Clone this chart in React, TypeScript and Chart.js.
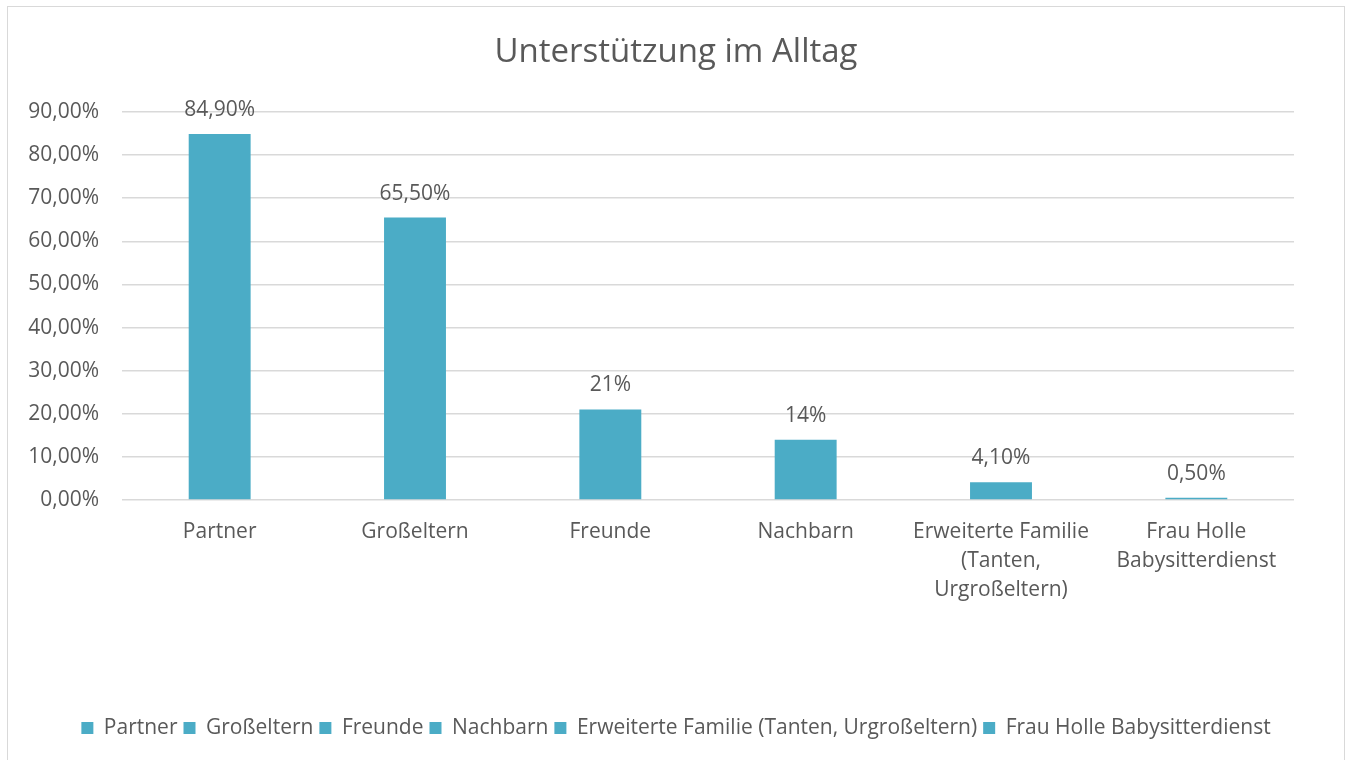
import React, { useEffect, useRef } from "react";
import { Chart, registerables } from "chart.js";

Chart.register(...registerables);

const categories: (string | string[])[] = [
  "Partner",
  "Großeltern",
  "Freunde",
  "Nachbarn",
  ["Erweiterte Familie", "(Tanten,", "Urgroßeltern)"],
  ["Frau Holle", "Babysitterdienst"],
];
const legendLabels = [
  "Partner",
  "Großeltern",
  "Freunde",
  "Nachbarn",
  "Erweiterte Familie (Tanten, Urgroßeltern)",
  "Frau Holle Babysitterdienst",
];
const values = [84.9, 65.5, 21, 14, 4.1, 0.5];
const valueLabels = ["84,90%", "65,50%", "21%", "14%", "4,10%", "0,50%"];
const yTickLabels = ["0,00%", "10,00%", "20,00%", "30,00%", "40,00%", "50,00%", "60,00%", "70,00%", "80,00%", "90,00%"];

const BAR = "#4BACC6";
const TEXT = "#595959";
const FONT = "'Open Sans', sans-serif";

const valueLabelPlugin = {
  id: "valueLabels",
  afterDatasetsDraw(chart: any) {
    const ctx = chart.ctx;
    const meta = chart.getDatasetMeta(0);
    ctx.save();
    ctx.fillStyle = TEXT;
    ctx.font = `21px ${FONT}`;
    ctx.textAlign = "center";
    ctx.textBaseline = "alphabetic";
    meta.data.forEach((bar: any, i: number) => {
      ctx.fillText(valueLabels[i], bar.x, bar.y - 18);
    });
    ctx.restore();
  },
};

export default function App() {
  const ref = useRef<HTMLCanvasElement>(null);
  useEffect(() => {
    if (!ref.current) return;
    const chart = new Chart(ref.current, {
      type: "bar",
      data: {
        labels: categories,
        datasets: [
          {
            label: "Unterstützung",
            data: values,
            backgroundColor: BAR,
            categoryPercentage: 1,
            barPercentage: 0.317,
            yAxisID: "y",
          },
        ],
      },
      options: {
        responsive: false,
        animation: false,
        devicePixelRatio: 1,
        layout: { padding: { top: 0, left: 0, right: 0, bottom: 18.5 } },
        plugins: {
          title: {
            display: true,
            text: "Unterstützung im Alltag",
            color: TEXT,
            font: { family: FONT, size: 33, weight: "normal", lineHeight: 1.2 },
            padding: { top: 26, bottom: 39.4 },
          },
          legend: {
            display: true,
            position: "bottom",
            labels: {
              color: TEXT,
              font: { family: FONT, size: 21 },
              boxWidth: 12,
              boxHeight: 12,
              padding: 6,
              generateLabels: () =>
                legendLabels.map((t, i) => ({
                  text: t,
                  fillStyle: BAR,
                  strokeStyle: BAR,
                  lineWidth: 0,
                  hidden: false,
                  index: i,
                  datasetIndex: 0,
                  fontColor: TEXT,
                })),
            },
          },
          tooltip: { enabled: false },
        },
        scales: {
          x: {
            grid: { display: false, drawTicks: false },
            border: { display: false },
            ticks: {
              color: TEXT,
              font: { family: FONT, size: 21, lineHeight: 1.4 },
              padding: 17,
              maxRotation: 0,
              autoSkip: false,
            },
            afterFit: (s: any) => {
              s.height = 211.5;
            },
          },
          y: {
            min: 0,
            max: 90,
            position: "left",
            grid: { color: "#d9d9d9", lineWidth: 1.5, drawTicks: false },
            border: { display: false },
            ticks: {
              stepSize: 10,
              color: TEXT,
              font: { family: FONT, size: 21 },
              padding: 23,
              callback: (v: any) => yTickLabels[Math.round(Number(v) / 10)],
            },
            afterFit: (s: any) => {
              s.width = 114;
            },
          },
          y2: {
            position: "right",
            min: 0,
            max: 90,
            grid: { display: false, drawTicks: false },
            border: { display: false },
            ticks: { display: false },
            afterFit: (s: any) => {
              s.width = 50;
            },
          },
        },
      },
      plugins: [valueLabelPlugin],
    });
    return () => chart.destroy();
  }, []);
  return (
    <div
      style={{
        position: "absolute",
        left: 7,
        top: 6,
        width: 1336,
        height: 760,
        border: "1px solid #d9d9d9",
        background: "#fff",
      }}
    >
      <canvas ref={ref} width={1336} height={760} style={{ display: "block" }} />
    </div>
  );
}
